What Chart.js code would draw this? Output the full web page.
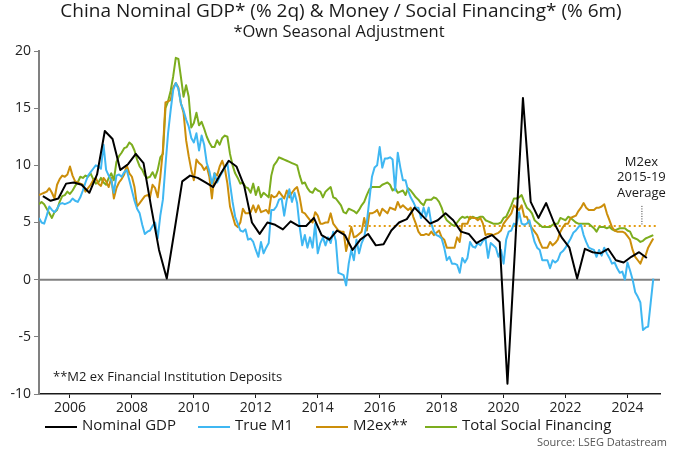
<!DOCTYPE html>
<html><head><meta charset="utf-8">
<script src="https://cdn.jsdelivr.net/npm/chart.js@4.4.1/dist/chart.umd.min.js"></script>
<style>html,body{margin:0;padding:0;background:#fff}canvas{display:block}</style>
</head><body>
<canvas id="c" width="680" height="453"></canvas>
<script>
// ---- Text ----
const titleText = "China Nominal GDP* (% 2q) & Money / Social Financing* (% 6m)";
const subtitleText = "*Own Seasonal Adjustment";
const footnoteText = "**M2 ex Financial Institution Deposits";
const sourceText = "Source: LSEG Datastream";
const annotationLines = ["M2ex", "2015-19", "Average"];
const seriesNames = ["Nominal GDP", "True M1", "M2ex**", "Total Social Financing"];

// ---- Axes ----
const xTicks = [2006, 2008, 2010, 2012, 2014, 2016, 2018, 2020, 2022, 2024];
const yTicks = [-10, -5, 0, 5, 10, 15, 20];
const xMin = 2005, xMax = 2025.05;

// ---- Data ----
// Nominal GDP, quarterly, first point = 2005 Q1 (mid-quarter)
const gdpStart = 2005.125;
const gdp = [
 7.3, 6.9, 7.1, 8.4,
 8.5, 8.3, 7.6, 9.2,
 13.0, 12.3, 9.6, 10.1,
 11.0, 10.2, 6.3, 2.6,
 0.1, 4.3, 8.6, 9.1,
 8.9, 8.5, 8.1, 9.3,
 10.4, 9.9, 8.2, 5.0,
 4.0, 5.0, 4.8, 4.4,
 5.1, 4.7, 4.7, 5.4,
 3.9, 3.5, 4.3, 3.9,
 2.6, 3.5, 4.0, 3.0,
 3.1, 4.3, 5.0, 5.3,
 6.3, 5.6, 4.9, 5.2,
 5.8, 5.2, 4.2, 4.0,
 3.2, 3.6, 3.9, 3.3,
 -9.1, 3.0, 15.9, 6.8,
 5.4, 6.7, 5.0, 3.7,
 2.8, 0.1, 2.7, 2.4,
 2.3, 2.7, 1.7, 1.5,
 2.0, 2.4, 1.9
];

// Monthly series, first point = Jan 2005
const monthStart = 2005.0;
const trueM1 = [
 5.4,5.0,4.9,5.6,6.4,6.1,5.9,6.2,6.6,6.7,6.6,6.7,
 6.8,7.1,6.9,6.8,7.2,7.8,8.5,9.1,9.4,9.7,10.0,9.9,
 9.7,11.8,9.6,9.1,8.7,7.6,9.1,9.2,9.0,9.4,9.6,8.7,
 7.8,6.9,6.2,5.8,4.8,4.0,4.2,4.3,4.7,5.0,3.6,5.6,
 7.0,10.0,12.8,14.8,16.6,17.2,16.7,15.4,14.8,14.0,13.4,12.4,
 12.0,12.8,11.3,12.6,11.8,10.2,9.5,8.4,9.3,8.5,9.0,9.4,
 9.8,10.2,8.4,6.8,5.5,4.9,4.3,4.2,4.4,3.5,3.6,3.3,
 2.6,2.0,3.3,2.3,2.8,3.2,6.1,6.1,6.4,7.0,7.1,5.6,
 7.0,7.9,6.8,7.6,6.7,4.6,3.0,3.9,2.8,3.7,2.8,4.9,
 2.3,3.2,3.7,3.0,3.7,3.2,4.2,3.4,0.6,0.5,0.4,-0.5,
 1.4,2.6,1.7,3.5,2.3,3.2,3.7,5.0,7.0,9.0,9.8,10.0,
 11.6,9.8,10.6,10.6,10.7,10.5,7.8,11.1,9.8,8.7,8.7,7.8,
 7.2,6.8,6.3,6.3,5.4,6.3,5.5,6.3,4.9,4.2,3.9,3.8,
 3.6,2.8,1.7,2.0,1.4,1.4,1.3,0.6,1.9,1.5,1.9,3.3,
 2.9,2.8,3.2,3.0,3.4,3.6,1.9,3.2,3.0,2.8,2.0,2.6,
 1.4,3.5,4.2,4.3,4.9,4.8,5.9,4.9,4.8,4.9,5.2,4.2,
 3.3,2.8,2.6,1.7,1.7,1.7,1.0,1.7,1.5,1.7,2.3,2.5,
 2.8,3.2,3.6,4.1,4.3,4.6,4.8,3.9,3.3,2.8,2.7,2.6,
 2.0,2.6,2.1,2.8,2.3,1.9,1.4,1.5,1.0,0.6,0.7,0.0,
 1.5,0.8,0.0,-1.1,-1.5,-2.0,-4.4,-4.2,-4.1,-2.0,0.1
];
const m2ex = [
 7.4,7.5,7.6,7.7,8.0,7.6,7.1,8.3,8.8,9.1,9.0,9.2,
 9.9,9.1,8.6,8.5,8.4,8.3,7.7,8.0,8.3,8.7,8.9,8.4,
 8.2,8.9,8.6,8.1,8.9,7.1,8.0,8.5,8.8,9.2,10.0,9.3,
 9.0,8.1,6.4,6.7,7.0,7.3,7.4,7.2,8.3,8.0,7.2,9.0,
 11.3,15.5,15.6,15.7,16.8,17.2,16.8,15.4,14.6,12.2,10.8,9.6,
 8.7,10.5,10.2,10.0,9.6,9.9,9.0,7.1,9.3,9.1,9.9,10.4,
 9.7,8.4,6.4,5.6,4.8,4.6,5.0,6.2,5.8,5.8,5.9,6.5,
 5.9,6.5,5.9,6.0,6.1,5.8,7.4,7.2,7.3,7.7,7.4,7.1,
 7.8,7.2,7.6,7.9,8.1,7.2,5.9,5.8,5.5,5.2,5.0,5.9,
 5.6,4.9,4.9,5.0,5.0,5.8,4.9,4.6,4.3,4.2,4.2,2.5,
 3.5,4.6,3.7,3.8,4.0,4.2,5.4,4.3,5.8,5.8,5.9,6.1,
 5.6,6.2,6.0,5.8,6.3,6.2,6.1,6.8,6.3,6.5,6.3,6.1,
 6.3,5.5,4.9,4.2,3.9,3.9,4.0,3.9,4.2,3.9,4.1,4.3,
 3.7,3.5,2.8,2.8,2.8,2.8,3.7,3.3,4.9,4.9,4.9,5.5,
 5.4,5.4,5.2,5.4,4.9,3.9,4.0,4.0,3.9,4.0,4.1,4.3,
 4.9,5.2,5.5,5.8,6.5,6.3,6.1,6.5,5.5,5.5,4.9,4.5,
 4.2,3.9,3.3,2.8,2.8,2.8,3.3,3.0,3.2,3.5,4.2,4.6,
 4.9,4.9,5.4,5.5,5.6,6.0,6.3,6.7,6.3,6.1,6.1,6.1,
 6.3,6.3,6.4,6.6,5.8,5.2,4.6,4.3,4.2,4.2,4.2,4.1,
 3.8,3.5,2.6,2.0,1.7,1.4,2.0,2.1,2.8,3.2,3.6
];
const tsf = [
 6.6,6.8,6.6,6.2,5.8,5.4,5.9,6.1,6.8,7.3,7.4,7.7,
 7.5,7.8,8.2,8.5,9.0,8.9,9.1,9.0,9.3,8.8,8.4,8.5,
 8.9,8.5,8.3,8.9,9.3,8.7,10.3,10.8,11.1,11.5,11.6,12.0,
 11.8,11.3,10.5,9.9,9.6,9.1,8.9,9.0,9.4,8.9,9.6,10.7,
 11.0,15.0,15.6,16.5,17.8,19.4,19.3,17.7,16.0,17.0,16.0,13.3,
 13.7,14.6,13.5,13.8,13.2,12.5,12.0,11.6,11.6,12.2,11.8,12.4,
 12.6,12.5,11.0,10.0,9.3,8.9,8.4,8.5,8.1,8.0,7.6,8.4,
 7.4,8.1,7.2,7.6,7.4,7.2,9.1,10.0,10.3,10.7,10.6,10.5,
 10.4,10.3,10.2,10.1,10.0,9.1,8.4,8.5,8.0,7.7,7.6,8.0,
 7.8,7.7,7.2,7.7,7.9,8.1,7.2,7.1,6.8,6.5,5.9,5.8,
 6.2,6.1,6.0,5.8,6.1,6.5,6.8,7.4,7.9,8.1,8.1,8.1,
 8.1,8.3,8.4,8.5,8.3,7.8,8.0,7.6,7.7,7.8,7.4,8.0,
 7.8,7.5,7.2,7.0,6.7,6.5,7.0,7.0,7.0,7.2,7.1,6.8,
 6.3,5.6,5.2,5.0,4.8,4.7,5.0,5.3,5.5,5.4,5.5,5.3,
 5.5,5.4,5.4,5.5,5.5,5.2,5.1,5.0,4.9,4.9,4.9,5.0,
 5.4,5.5,6.0,6.5,7.1,7.1,7.2,7.4,6.8,6.3,6.1,5.8,
 5.2,5.0,4.8,4.6,4.6,4.6,4.6,4.8,4.9,4.9,5.4,5.3,
 5.2,5.5,5.4,5.2,5.0,4.9,4.9,4.9,4.9,4.9,4.7,4.5,
 4.2,4.6,4.6,4.6,4.5,4.6,4.4,4.3,4.4,4.5,4.5,4.5,
 4.3,4.2,3.7,3.6,3.5,3.3,3.4,3.6,3.7,3.8,3.9
];
// M2ex 2015-19 average reference line
const avgValue = 4.7;
const avgFrom = 2015.0, avgTo = 2024.95;
const annotationX = 2024.45;

// ---- Styles ----
const colors = { gdp: "#000000", m1: "#3fb7f2", m2: "#cc8e0a", tsf: "#7cad1e", avg: "#e39c12" };
const FONT = "'Open Sans', 'Noto Sans', sans-serif";

const toPts = (arr, start, step) => arr.map((v, i) => ({ x: start + i * step, y: v }));

const overlay = {
  id: "overlay",
  beforeDatasetsDraw(chart) {
    const { ctx, chartArea: a, scales: { y } } = chart;
    const y0 = y.getPixelForValue(0);
    ctx.save();
    ctx.strokeStyle = "#808080";
    ctx.lineWidth = 2;
    ctx.beginPath(); ctx.moveTo(a.left, y0); ctx.lineTo(a.right, y0); ctx.stroke();
    ctx.restore();
  },
  afterDraw(chart) {
    const { ctx, scales: { x, y } } = chart;
    ctx.save();
    ctx.fillStyle = "#1a1a1a";
    ctx.textAlign = "center"; ctx.textBaseline = "middle";
    ctx.font = "19px " + FONT;
    ctx.fillText(titleText, 341, 12);
    ctx.font = "16.5px " + FONT;
    ctx.fillText(subtitleText, 339, 32);
    // annotation
    ctx.font = "13px " + FONT;
    const ax = x.getPixelForValue(annotationX);
    annotationLines.forEach((t, i) => ctx.fillText(t, ax, 162 + i * 15.5));
    ctx.strokeStyle = "#333"; ctx.lineWidth = 1; ctx.setLineDash([1, 1.5]);
    ctx.beginPath(); ctx.moveTo(ax + 0.5, y.getPixelForValue(6.45)); ctx.lineTo(ax + 0.5, y.getPixelForValue(avgValue)); ctx.stroke();
    ctx.setLineDash([]);
    // footnote
    ctx.textAlign = "left";
    ctx.font = "13px " + FONT;
    ctx.fillText(footnoteText, 53, 377);
    // legend
    const items = [
      { name: seriesNames[0], c: colors.gdp, x0: 45 },
      { name: seriesNames[1], c: colors.m1, x0: 198 },
      { name: seriesNames[2], c: colors.m2, x0: 316 },
      { name: seriesNames[3], c: colors.tsf, x0: 425 }
    ];
    ctx.font = "15px " + FONT;
    items.forEach(it => {
      ctx.strokeStyle = it.c; ctx.lineWidth = 2;
      ctx.beginPath(); ctx.moveTo(it.x0, 427); ctx.lineTo(it.x0 + 32, 427); ctx.stroke();
      ctx.fillStyle = "#1a1a1a";
      ctx.fillText(it.name, it.x0 + 37, 426);
    });
    // source
    ctx.textAlign = "right";
    ctx.fillStyle = "#555";
    ctx.font = "11px " + FONT;
    ctx.fillText(sourceText, 667, 443);
    ctx.restore();
  }
};

new Chart(document.getElementById("c"), {
  type: "line",
  data: {
    datasets: [
      { label: seriesNames[0], data: toPts(gdp, gdpStart, 0.25), borderColor: colors.gdp, borderWidth: 2 },
      { label: seriesNames[1], data: toPts(trueM1, monthStart, 1 / 12), borderColor: colors.m1, borderWidth: 2 },
      { label: seriesNames[2], data: toPts(m2ex, monthStart, 1 / 12), borderColor: colors.m2, borderWidth: 2 },
      { label: seriesNames[3], data: toPts(tsf, monthStart, 1 / 12), borderColor: colors.tsf, borderWidth: 2 },
      { label: "avg", data: [{ x: avgFrom, y: avgValue }, { x: avgTo, y: avgValue }], borderColor: colors.avg, borderWidth: 2, borderDash: [2, 3] }
    ]
  },
  options: {
    responsive: false,
    animation: false,
    devicePixelRatio: 1,
    layout: { padding: { left: 0, right: 20, top: 51, bottom: 0 } },
    elements: { point: { radius: 0 }, line: { tension: 0, fill: false, borderJoinStyle: "round" } },
    plugins: { legend: { display: false }, tooltip: { enabled: false }, title: { display: false } },
    scales: {
      x: {
        type: "linear", min: xMin, max: xMax,
        afterFit: s => { s.height = 59; },
        afterBuildTicks: s => { s.ticks = xTicks.map(v => ({ value: v })); },
        border: { display: true, color: "#1a1a1a", width: 1.5 },
        grid: { display: true, drawOnChartArea: false, drawTicks: true, tickLength: 4, color: "#1a1a1a" },
        ticks: { color: "#222", font: { family: FONT, size: 14 }, padding: 2, maxRotation: 0, callback: v => String(v) }
      },
      y: {
        min: yTicks[0], max: yTicks[yTicks.length - 1],
        afterFit: s => { s.width = 39; },
        afterBuildTicks: s => { s.ticks = yTicks.map(v => ({ value: v })); },
        border: { display: true, color: "#808080", width: 2 },
        grid: { display: true, drawOnChartArea: false, drawTicks: true, tickLength: 5, color: "#808080" },
        ticks: { color: "#222", font: { family: FONT, size: 14 }, padding: 3, callback: v => String(v) }
      }
    }
  },
  plugins: [overlay]
});
</script>
</body></html>
